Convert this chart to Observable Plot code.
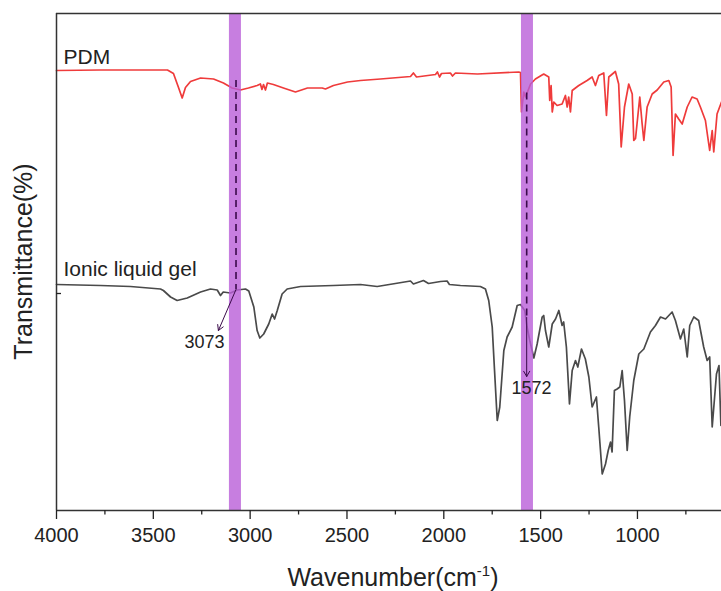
<!DOCTYPE html>
<html><head><meta charset="utf-8">
<script src="https://cdn.jsdelivr.net/npm/d3@7"></script>
<script src="https://cdn.jsdelivr.net/npm/@observablehq/plot@0.6"></script>
<style>body{margin:0;background:#fff} svg{display:block}</style>
</head><body><div id="chart"></div>
<script>
// ---- data (wavenumber in cm-1, transmittance in arbitrary %) ----
const pdmWn = [4000,3773,3427,3396,3370,3351,3334,3308,3256,3189,3138,3093,3050,3009,2964,2947,2939,2931,2921,2911,2880,2828,2766,2704,2628,2611,2570,2497,2430,2327,2172,2157,2141,2043,2033,2022,2012,1966,1955,1940,1826,1613,1604,1599,1587,1578,1552,1527,1484,1458,1453,1446,1440,1432,1415,1389,1372,1363,1355,1346,1337,1303,1260,1234,1217,1200,1174,1160,1148,1114,1097,1084,1067,1045,1027,1019,1010,1002,988,976,967,950,924,898,864,838,826,816,804,787,769,743,718,692,675,649,637,627,614,606,589,566];
const pdmT = [88.0,88.1,88.1,87.4,84.6,82.5,84.6,85.8,86.5,86.3,85.5,84.5,84.1,84.5,85.0,85.3,84.2,85.2,84.1,85.5,85.2,84.5,83.7,84.5,84.5,84.3,85.0,85.7,86.0,86.3,86.8,87.5,86.7,87.2,87.7,86.7,87.4,87.5,86.9,87.5,87.3,87.7,87.6,79.7,83.7,82.7,85.3,86.3,87.3,86.7,82.0,85.0,79.7,81.7,81.0,81.3,83.0,80.7,82.7,79.7,84.0,85.0,86.0,86.7,85.0,87.0,87.5,79.0,86.7,87.8,85.3,72.7,80.7,85.3,83.3,74.0,74.4,77.4,82.7,77.4,74.0,80.7,83.3,84.1,85.7,86.0,84.7,71.0,79.3,78.3,77.3,80.7,82.7,82.3,80.7,78.0,74.7,72.0,76.0,71.7,79.3,81.7];
const gelWn = [4000,3773,3618,3463,3448,3411,3377,3325,3256,3205,3170,3153,3139,3102,3067,3024,3007,2981,2964,2950,2930,2904,2886,2874,2860,2835,2809,2740,2570,2430,2344,2250,2172,2157,2105,2079,2017,1983,1971,1914,1811,1785,1768,1750,1738,1724,1711,1690,1673,1647,1621,1604,1582,1570,1556,1535,1518,1492,1484,1475,1458,1440,1423,1406,1389,1381,1367,1351,1337,1320,1308,1289,1269,1251,1234,1212,1200,1182,1165,1151,1139,1131,1119,1105,1091,1079,1067,1053,1040,1019,993,967,933,907,881,855,821,804,778,761,743,730,709,684,658,640,627,614,592,579,569,566];
const gelT = [45.2,45.0,44.8,44.3,44.0,42.7,42.0,42.5,43.7,44.3,44.1,43.0,43.7,43.5,44.1,44.3,43.9,40.7,36.0,34.5,35.3,37.3,39.3,38.3,40.0,43.3,44.3,44.8,45.0,45.2,44.8,45.4,45.9,45.3,46.0,45.4,45.8,45.9,45.2,45.0,44.8,44.3,42.0,36.7,28.0,18.0,20.7,32.0,34.7,36.7,41.0,41.2,40.0,36.7,34.0,30.5,33.3,38.7,39.0,36.0,32.7,37.3,38.3,40.0,37.0,37.7,32.7,21.3,28.0,30.0,28.7,32.3,30.3,26.7,20.7,22.7,16.7,7.3,9.3,12.0,13.7,11.7,24.0,24.3,24.7,28.0,22.0,12.0,18.7,26.0,31.3,32.3,35.7,37.0,38.7,38.3,39.7,38.0,34.3,36.3,30.7,37.0,38.7,38.0,32.7,30.0,30.7,16.7,27.3,29.0,17.0,20.0];
const seriesNames = ["PDM", "Ionic liquid gel"];
const bandLo = [3045, 1537];
const bandHi = [3107, 1599];
const peakWn = [3073, 1572];
const peakLabels = ["3073", "1572"];
const majorTicks = [4000, 3500, 3000, 2500, 2000, 1500, 1000];
const minorTicks = [3750, 3250, 2750, 2250, 1750, 1250, 750];

// ---- tables ----
const pdm = pdmWn.map((w, i) => ({wn: w, t: pdmT[i]}));
const gel = gelWn.map((w, i) => ({wn: w, t: gelT[i]}));
const bands = bandLo.map((lo, i) => ({lo, hi: bandHi[i]}));
// annotation anchors (data space)
const dashes = [
  {wn: peakWn[0], top: 86.0, bottom: 44.2},
  {wn: peakWn[1], top: 83.5, bottom: 38.6}
];
const arrows = [
  {x1: peakWn[0], y1: 44.2, x2: 3164, y2: 36.0},
  {x1: peakWn[1], y1: 38.6, x2: peakWn[1], y2: 26.8}
];
const peakText = [
  {wn: 3236, t: 33.6, label: peakLabels[0]},
  {wn: 1547, t: 24.4, label: peakLabels[1]}
];
const seriesText = [
  {wn: 3964, t: 90.6, label: seriesNames[0]},
  {wn: 3964, t: 48.2, label: seriesNames[1]}
];

const Y_MAX = 99.4;
const font = "'Liberation Sans', Arial, Helvetica, sans-serif";

const chart = Plot.plot({
  width: 721, height: 591,
  marginLeft: 56, marginRight: 0, marginTop: 13, marginBottom: 81,
  style: {fontFamily: font, fontSize: "20px", color: "#222", background: "#fff"},
  x: {domain: [4000, 566]},
  y: {domain: [0, Y_MAX]},
  marks: [
    Plot.line(pdm, {x: "wn", y: "t", stroke: "#ef3b3b", strokeWidth: 1.7, strokeLinejoin: "round"}),
    Plot.line(gel, {x: "wn", y: "t", stroke: "#4a4a4a", strokeWidth: 1.7, strokeLinejoin: "round"}),
    Plot.rect(bands, {x1: "lo", x2: "hi", fill: "#b95ed8", fillOpacity: 0.8}),
    Plot.ruleY([Y_MAX], {stroke: "#333", strokeWidth: 1.5}),
    Plot.ruleX([4000], {stroke: "#333", strokeWidth: 1.5}),
    Plot.ruleY([0], {stroke: "#333", strokeWidth: 1.5}),
    Plot.axisX({ticks: minorTicks, tickSize: 4.5, tickFormat: () => "", label: null, strokeWidth: 1.3}),
    Plot.axisX({ticks: majorTicks, tickSize: 9, tickPadding: 8, tickFormat: d => String(d), label: null, fontSize: 20, strokeWidth: 1.3}),
    Plot.axisY({ticks: [43.4], tickSize: 5, dx: 5, tickFormat: () => "", label: null, strokeWidth: 1.3}),
    Plot.ruleX(dashes, {x: "wn", y1: "top", y2: "bottom", stroke: "#3a0a4a", strokeWidth: 1.6, strokeDasharray: "7,5"}),
    Plot.arrow(arrows, {x1: "x1", y1: "y1", x2: "x2", y2: "y2", stroke: "#3a0a4a", strokeWidth: 1, headLength: 9}),
    Plot.text(peakText, {x: "wn", y: "t", text: "label", fontSize: 18, fill: "#222", textAnchor: "middle"}),
    Plot.text(seriesText, {x: "wn", y: "t", text: "label", fontSize: 21, fill: "#222", textAnchor: "start"})
  ]
});

// axis titles
const svg = d3.select(chart);
svg.append("text")
  .attr("transform", "translate(23,261.5) rotate(-90)")
  .attr("text-anchor", "middle").attr("dominant-baseline", "central")
  .style("font-family", font).style("font-size", "25px").attr("fill", "#222")
  .text("Transmittance(%)");
const xt = svg.append("text")
  .attr("x", 393).attr("y", 586)
  .attr("text-anchor", "middle")
  .style("font-family", font).style("font-size", "25px").attr("fill", "#222");
xt.append("tspan").text("Wavenumber(cm");
xt.append("tspan").attr("dy", -10).style("font-size", "15px").text("-1");
xt.append("tspan").attr("dy", 10).text(")");

document.getElementById("chart").append(chart);
</script>
</body></html>
